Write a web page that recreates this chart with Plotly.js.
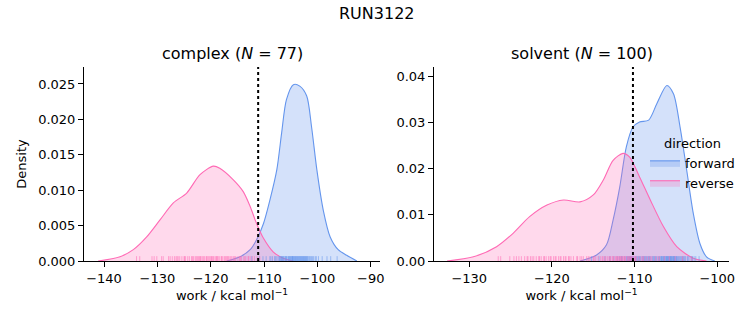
<!DOCTYPE html>
<html>
<head>
<meta charset="utf-8">
<script src="https://cdn.plot.ly/plotly-3.0.1.min.js"></script>
<style>html,body{margin:0;padding:0;background:#fff;}#chart{width:753px;height:325px;}</style>
</head>
<body>
<div id="chart"></div>
<script>
// ---- Data ----
const suptitle = "RUN3122";
const panelNames = ["complex", "solvent"];
const panelN = [77, 100];
const directions = ["forward", "reverse"];
const refLines = [-111.1, -110.2];

// KDE curves: complex
const complexFwdX = [-117.0, -114.5, -112.6, -111.4, -110.1, -108.9, -107.6, -106.7, -105.8, -104.5, -103.3, -102.0, -101.1, -100.1, -98.9, -97.6, -96.1, -94.5, -92.6];
const complexFwdY = [0.0000, 0.0006, 0.0016, 0.0030, 0.0053, 0.0086, 0.0129, 0.0181, 0.0228, 0.0249, 0.0247, 0.0233, 0.0190, 0.0129, 0.0072, 0.0034, 0.0016, 0.0008, 0.0000];
const complexRevX = [-141.1, -137.0, -134.5, -132.0, -129.5, -127.0, -124.5, -122.0, -119.5, -118.3, -115.8, -113.9, -112.6, -111.4, -110.1, -108.3, -106.4, -104.5];
const complexRevY = [0.0000, 0.0006, 0.0016, 0.0034, 0.0058, 0.0082, 0.0096, 0.0122, 0.0134, 0.0131, 0.0115, 0.0098, 0.0077, 0.0053, 0.0032, 0.0013, 0.0004, 0.0000];

// KDE curves: solvent
const solventFwdX = [-116.6, -114.6, -113.4, -112.6, -111.8, -111.0, -110.2, -109.4, -108.3, -107.3, -106.1, -105.3, -104.5, -103.7, -102.9, -102.1, -101.3, -100.3];
const solventFwdY = [0.0000, 0.0013, 0.0035, 0.0089, 0.0160, 0.0247, 0.0290, 0.0301, 0.0305, 0.0341, 0.0380, 0.0362, 0.0290, 0.0197, 0.0103, 0.0038, 0.0009, 0.0000];
const solventRevX = [-132.7, -129.5, -126.7, -124.7, -122.7, -120.6, -118.6, -116.6, -115.0, -113.8, -112.6, -111.4, -110.6, -109.4, -108.1, -106.5, -104.9, -102.9, -101.3];
const solventRevY = [0.0000, 0.0009, 0.0031, 0.0060, 0.0096, 0.0121, 0.0132, 0.0128, 0.0143, 0.0175, 0.0218, 0.0233, 0.0225, 0.0182, 0.0132, 0.0074, 0.0031, 0.0006, 0.0000];

// Rug samples
const complexFwdRug = [-112.3, -110.9, -110.2, -109.6, -108.9, -108.4, -108.0, -107.7, -107.4, -107.1, -106.9, -106.7, -106.5, -106.3, -106.1, -105.9, -105.7, -105.5, -105.3, -105.2, -105.0, -104.9, -104.7, -104.6, -104.4, -104.3, -104.1, -104.0, -103.8, -103.7, -103.5, -103.4, -103.2, -103.1, -102.9, -102.7, -102.5, -102.3, -102.1, -101.9, -101.6, -101.3, -100.9, -100.4, -99.8, -99.1, -98.2, -97.5, -96.3, -108.7, -107.9, -107.2, -106.8, -106.4, -106.0, -105.8, -105.4, -105.1, -104.8, -104.5, -104.2, -103.9, -103.6, -103.3, -103.0, -102.8, -102.6, -102.4, -102.2, -102.0, -101.8, -101.5, -101.1, -100.7, -100.2, -106.6, -104.65];
const complexRevRug = [-133.9, -133.3, -131.0, -130.6, -130.1, -129.2, -128.9, -127.6, -127.2, -126.8, -126.5, -126.1, -125.8, -125.4, -125.0, -124.7, -124.3, -123.6, -123.2, -122.9, -122.5, -122.1, -121.8, -121.5, -121.1, -120.8, -120.5, -120.1, -119.8, -119.5, -119.2, -118.9, -118.6, -118.3, -118.0, -117.7, -117.4, -117.0, -116.7, -116.4, -116.0, -115.7, -115.3, -114.9, -114.6, -114.2, -113.8, -113.4, -113.0, -112.6, -112.2, -111.8, -111.3, -110.8, -127.9, -126.3, -124.9, -124.0, -123.4, -122.7, -122.3, -121.9, -121.3, -120.7, -120.3, -119.9, -119.6, -119.0, -118.7, -117.9, -117.2, -116.8, -116.2, -115.5, -114.4, -113.6, -112.9];
const solventFwdRug = [-115.2, -114.3, -113.6, -113.0, -112.5, -112.1, -111.8, -111.5, -111.2, -110.9, -110.7, -110.5, -110.3, -110.1, -109.9, -109.7, -109.5, -109.3, -109.1, -108.9, -108.7, -108.5, -108.3, -108.1, -107.9, -107.7, -107.5, -107.3, -107.1, -106.9, -106.8, -106.7, -106.6, -106.5, -106.4, -106.3, -106.2, -106.1, -106.0, -105.9, -105.8, -105.7, -105.6, -105.5, -105.4, -105.3, -105.2, -105.1, -105.0, -104.9, -104.8, -104.6, -104.4, -104.2, -104.0, -103.8, -103.6, -103.3, -103.0, -102.6, -111.0, -110.6, -110.2, -109.8, -109.4, -109.0, -108.6, -108.2, -107.8, -107.4, -107.0, -106.75, -106.55, -106.35, -106.15, -105.95, -105.75, -105.55, -105.35, -105.15, -104.95, -104.7, -104.5, -104.3, -104.1, -103.9, -103.5, -103.1, -102.8, -102.2, -111.6, -110.8, -110.4, -109.6, -108.8, -108.4, -107.6, -106.05, -105.65, -105.25];
const solventRevRug = [-126.5, -126.2, -125.1, -124.6, -124.0, -123.7, -123.3, -122.9, -122.6, -122.2, -121.9, -121.6, -121.3, -121.0, -120.7, -120.4, -120.1, -119.8, -119.5, -119.2, -118.9, -118.6, -118.3, -118.0, -117.7, -117.4, -117.0, -116.6, -116.2, -115.8, -115.4, -115.0, -114.7, -114.4, -114.1, -113.8, -113.6, -113.3, -113.1, -112.9, -112.7, -112.5, -112.3, -112.1, -111.9, -111.8, -111.6, -111.4, -111.3, -111.1, -110.9, -110.8, -110.6, -110.4, -110.2, -110.0, -109.8, -109.5, -109.2, -108.9, -108.6, -108.3, -107.9, -107.5, -107.0, -106.4, -105.8, -105.1, -104.2, -103.1, -120.9, -120.2, -119.6, -119.0, -118.4, -117.9, -121.5, -122.4, -123.0, -124.3, -116.9, -116.4, -115.6, -114.9, -113.9, -113.0, -112.6, -112.2, -111.7, -111.2, -110.7, -110.3, -109.9, -109.0, -108.1, -107.2, -113.5, -112.0, -111.5, -110.5];

// ---- Styling ----
const FONT = "DejaVu Sans, sans-serif";
const colFwd = "#6495ED", colRev = "#FF69B4";
const fillFwd = "rgba(100,149,237,0.28)", fillRev = "rgba(255,105,180,0.25)";
const rugFwd = "rgba(100,149,237,0.55)", rugRev = "rgba(255,105,180,0.55)";
const W = 753, H = 325;
const px = v => v / W, py = v => 1 - v / H;

const xRanges = [[-143.75, -88.26], [-134.27, -98.58]];
const yRanges = [[0, 0.0274], [0, 0.042]];

function rugTrace(vals, color, xa, ya, ytop) {
  const xs = [], ys = [];
  vals.forEach(v => { xs.push(v, v, null); ys.push(0, ytop, null); });
  return {x: xs, y: ys, xaxis: xa, yaxis: ya, type: "scatter", mode: "lines",
          line: {color: color, width: 1}, showlegend: false, hoverinfo: "skip"};
}

const panels = [
  {fx: complexFwdX, fy: complexFwdY, rx: complexRevX, ry: complexRevY, fr: complexFwdRug, rr: complexRevRug},
  {fx: solventFwdX, fy: solventFwdY, rx: solventRevX, ry: solventRevY, fr: solventFwdRug, rr: solventRevRug}
];

const traces = [];
panels.forEach((p, i) => {
  const xa = i === 0 ? "x" : "x2", ya = i === 0 ? "y" : "y2";
  const rugH = yRanges[i][1] * 0.025;
  traces.push({x: p.fx, y: p.fy, xaxis: xa, yaxis: ya, type: "scatter", mode: "lines",
    line: {color: colFwd, width: 1.1, shape: "spline", smoothing: 0.8}, fill: "tozeroy", fillcolor: fillFwd,
    name: directions[0], legendgroup: directions[0], showlegend: i === 0});
  traces.push({x: p.rx, y: p.ry, xaxis: xa, yaxis: ya, type: "scatter", mode: "lines",
    line: {color: colRev, width: 1.1, shape: "spline", smoothing: 0.8}, fill: "tozeroy", fillcolor: fillRev,
    name: directions[1], legendgroup: directions[1], showlegend: i === 0});
  traces.push(rugTrace(p.fr, rugFwd, xa, ya, rugH));
  traces.push(rugTrace(p.rr, rugRev, xa, ya, rugH));
  traces.push({x: [refLines[i], refLines[i]], y: [yRanges[i][0], yRanges[i][1]], xaxis: xa, yaxis: ya,
    type: "scatter", mode: "lines", line: {color: "black", width: 2, dash: "dot"}, showlegend: false, hoverinfo: "skip"});
});

const axBase = {showline: true, linecolor: "black", linewidth: 1, ticks: "outside", ticklen: 5, tickwidth: 1,
  tickcolor: "black", showgrid: false, zeroline: false, mirror: false,
  tickfont: {family: FONT, size: 13, color: "black"}, fixedrange: true};

const xTitle = {text: "work / kcal mol<sup>−1</sup>", font: {family: FONT, size: 13, color: "black"}, standoff: 6};

const layout = {
  width: W, height: H, margin: {l: 0, r: 0, t: 0, b: 0},
  paper_bgcolor: "white", plot_bgcolor: "white",
  font: {family: FONT, color: "black"},
  showlegend: true,
  legend: {x: px(645), y: py(131), xanchor: "left", yanchor: "top", bgcolor: "rgba(0,0,0,0)",
    font: {family: FONT, size: 13, color: "black"},
    title: {text: "direction", side: "top center", font: {family: FONT, size: 13, color: "black"}},
    itemwidth: 30, tracegroupgap: 0},
  xaxis: Object.assign({}, axBase, {domain: [px(84), px(380)], range: xRanges[0], dtick: 10, tick0: -140, title: xTitle, anchor: "y"}),
  yaxis: Object.assign({}, axBase, {domain: [py(261), py(67)], range: yRanges[0], dtick: 0.005, tickformat: ".3f", anchor: "x",
    title: {text: "Density", font: {family: FONT, size: 13, color: "black"}, standoff: 8}}),
  xaxis2: Object.assign({}, axBase, {domain: [px(434), px(729)], range: xRanges[1], dtick: 10, tick0: -130, title: xTitle, anchor: "y2"}),
  yaxis2: Object.assign({}, axBase, {domain: [py(261), py(67)], range: yRanges[1], dtick: 0.01, tickformat: ".2f", anchor: "x2"}),
  annotations: [
    {text: suptitle, x: 0.5, y: py(13), xref: "paper", yref: "paper", showarrow: false,
     xanchor: "center", yanchor: "middle", font: {family: FONT, size: 16, color: "black"}},
    {text: panelNames[0] + " (<i>N</i> = " + panelN[0] + ")", x: px(232), y: py(54), xref: "paper", yref: "paper",
     showarrow: false, xanchor: "center", yanchor: "middle", font: {family: FONT, size: 16, color: "black"}},
    {text: panelNames[1] + " (<i>N</i> = " + panelN[1] + ")", x: px(581.5), y: py(54), xref: "paper", yref: "paper",
     showarrow: false, xanchor: "center", yanchor: "middle", font: {family: FONT, size: 16, color: "black"}}
  ]
};

Plotly.newPlot("chart", traces, layout, {staticPlot: true, displayModeBar: false});
</script>
</body>
</html>
